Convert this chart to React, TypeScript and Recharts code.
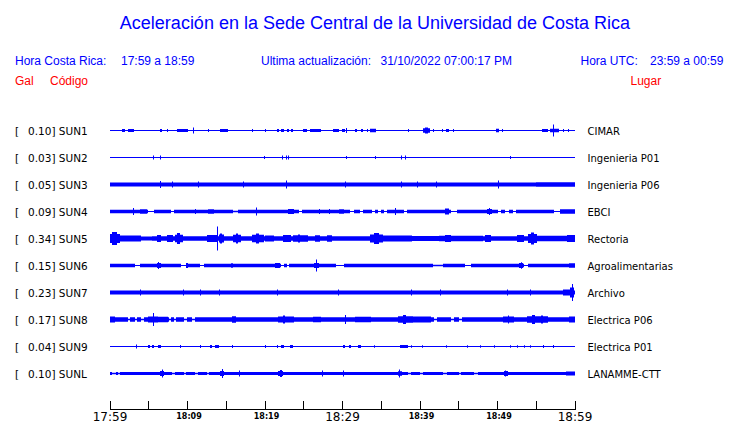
import React from "react";
import { ComposedChart, Area, XAxis, YAxis } from "recharts";

// station table
const STATION_CODES = ["SUN1", "SUN2", "SUN3", "SUN4", "SUN5", "SUN6", "SUN7", "SUN8", "SUN9", "SUNL"];
const GAL_VALUES = ["0.10", "0.03", "0.05", "0.09", "0.34", "0.15", "0.23", "0.17", "0.04", "0.10"];
const PLACES = [
  "CIMAR", "Ingenieria P01", "Ingenieria P06", "EBCI", "Rectoria",
  "Agroalimentarias", "Archivo", "Electrica P06", "Electrica P01", "LANAMME-CTT",
];

// time axis (minutes after 17:59)
const TIME_TICKS = [0, 5, 10, 15, 20, 25, 30, 35, 40, 45, 50, 55, 60];
const TIME_LABELS = ["17:59", "18:09", "18:19", "18:29", "18:39", "18:49", "18:59"];

// background half-amplitude of every trace
const BASE_AMP = [0.5, 0.5, 2, 1.7, 2.3, 1.7, 2, 2.3, 0.5, 1.5];

// [start min, end min, half amplitude]
type Burst = [number, number, number];
const SUN1_BURSTS: Burst[] = [
  [1.6, 1.8, 1.5], [2.3, 3.0, 1.5], [6.5, 6.6, 1.5], [7.3, 7.4, 1.5], [8.6, 9.9, 1.5],
  [10.7, 10.7, 3], [12.6, 12.6, 1.5], [14.2, 15.1, 1.5], [18.3, 18.3, 1.5], [20.0, 20.0, 1.5],
  [21.5, 21.7, 1.5], [22.1, 22.3, 1.5], [22.8, 23.0, 1.5], [23.4, 23.5, 1.5], [24.9, 25.3, 1.5],
  [25.8, 27.1, 1.5], [28.8, 29.4, 1.5], [29.9, 30.2, 1.5], [30.5, 30.5, 2.5], [31.6, 31.7, 1.5],
  [32.4, 32.5, 1.5], [33.1, 33.2, 1.5], [33.5, 34.2, 1.8], [38.5, 38.5, 1.5], [40.4, 41.2, 2.2],
  [40.7, 40.9, 3], [41.7, 41.7, 1.5], [42.8, 42.9, 1.5], [43.4, 43.6, 1.5], [44.3, 44.3, 1.5],
  [49.8, 50.1, 1.8], [50.6, 50.6, 1.5], [55.7, 56.4, 1.5], [56.8, 57.8, 1.8], [57.2, 57.2, 6],
  [58.5, 58.5, 1.5], [59.1, 59.1, 1.5],
];
const SUN2_BURSTS: Burst[] = [
  [5.5, 5.5, 2], [6.5, 6.5, 2], [19.9, 19.9, 1.5], [22.2, 22.2, 2], [22.7, 22.7, 2],
  [23.0, 23.0, 2], [30.5, 30.5, 1.5], [34.2, 34.2, 1.5], [37.5, 37.6, 2], [38.1, 38.1, 2],
  [51.6, 51.6, 1.5],
];
const SUN3_BURSTS: Burst[] = [
  [6.4, 6.4, 3.5], [8.0, 8.0, 3], [11.4, 11.4, 3], [17.2, 17.2, 3], [22.7, 22.7, 4],
  [30.3, 30.3, 3], [37.5, 37.5, 3], [39.6, 39.6, 3], [42.0, 42.0, 3], [50.1, 50.1, 4],
  [55.0, 60, 2.3],
];
const SUN4_BURSTS: Burst[] = [
  [3.0, 3.0, 3.5], [3.9, 4.6, 2.3], [4.9, 5.6, 0.5], [7.9, 8.1, 0.5], [11.0, 11.0, 2.5],
  [12.6, 13.3, 2.3], [15.9, 16.4, 0.8], [18.8, 18.8, 4], [23.0, 23.6, 2.5], [24.4, 24.6, 0.5],
  [27.0, 27.0, 2.5], [28.2, 28.2, 2.5], [29.5, 30.0, 2.3], [31.0, 31.3, 0.5], [32.2, 32.5, 0.5],
  [33.8, 34.0, 0.5], [34.6, 34.8, 0.5], [35.4, 35.6, 0.5], [36.8, 36.8, 3.5], [37.9, 38.2, 0.5],
  [43.2, 43.6, 3], [44.0, 44.6, 0.5], [48.6, 49.2, 2.5], [48.9, 48.9, 3.5], [50.0, 50.3, 0.5],
  [51.0, 51.3, 0.5], [52.0, 52.3, 0.5], [57.3, 57.9, 0.5], [58.1, 60, 2.2],
];
const SUN5_BURSTS: Burst[] = [
  [0, 1.3, 4.5], [0.3, 0.8, 6.5], [1.3, 4.0, 3], [4.0, 5.3, 2], [6.1, 6.5, 3.5],
  [7.3, 8.0, 3.5], [8.4, 9.3, 3.8], [8.7, 8.9, 5.5], [12.5, 13.7, 3.5], [13.8, 13.8, 12],
  [14.0, 14.6, 4], [14.2, 14.3, 5], [15.9, 16.8, 3.8], [16.2, 16.4, 5], [18.3, 19.7, 3.8],
  [18.8, 19.1, 5], [20.0, 21.0, 3], [22.3, 23.2, 3.5], [23.6, 25.4, 3.3], [24.2, 24.4, 4],
  [26.5, 27.0, 3.2], [28.0, 28.5, 3.2], [33.5, 35.2, 4], [34.0, 34.6, 5.5], [35.2, 39.0, 3],
  [39.0, 42.4, 2.5], [42.4, 48.0, 2.8], [43.2, 43.9, 3.5], [48.4, 49.0, 3.5], [52.5, 53.3, 3.5],
  [53.9, 55.1, 4.5], [54.3, 54.6, 6], [55.1, 59.0, 2.8], [59.0, 60, 3.5],
];
const SUN6_BURSTS: Burst[] = [
  [3.2, 3.7, 0.5], [6.0, 6.5, 2.5], [6.2, 6.2, 3.5], [9.2, 9.7, 0.5], [9.8, 9.9, 2.5],
  [11.6, 12.0, 0.5], [15.6, 15.8, 2.3], [21.3, 21.8, 2.6], [22.0, 22.3, 0.5], [22.8, 23.0, 0.5],
  [26.3, 26.9, 2.5], [26.6, 26.6, 6], [29.2, 30.1, 0.5], [41.7, 42.8, 0.8], [45.8, 46.4, 0.5],
  [52.8, 53.2, 2.6], [53.0, 53.0, 3.2], [53.4, 53.8, 0.5], [59.2, 60, 2.3],
];
const SUN7_BURSTS: Burst[] = [
  [3.9, 3.9, 3], [9.4, 9.4, 3], [11.6, 11.6, 3], [14.0, 14.0, 3], [21.5, 21.5, 3],
  [29.4, 29.4, 3], [38.9, 38.9, 3], [42.6, 42.6, 3], [51.2, 51.2, 3], [54.2, 54.2, 3],
  [58.4, 59.3, 3], [59.4, 59.8, 5], [59.6, 59.6, 8.5],
];
const SUN8_BURSTS: Burst[] = [
  [0, 0.5, 3], [2.3, 2.5, 0.8], [3.2, 3.4, 0.8], [4.0, 4.2, 0.8], [4.9, 6.2, 3],
  [5.6, 5.6, 6.5], [6.2, 7.3, 2.8], [7.6, 7.8, 0.8], [8.2, 8.4, 0.8], [9.6, 9.8, 0.8],
  [10.6, 10.8, 0.8], [15.7, 16.1, 3.2], [21.7, 23.6, 3], [22.3, 22.5, 4], [26.2, 27.1, 2.8],
  [30.3, 30.3, 4.5], [31.6, 33.5, 2.8], [37.2, 39.1, 3.2], [37.8, 38.0, 4.5], [39.1, 41.3, 3],
  [41.8, 42.0, 0.8], [44.0, 44.2, 0.8], [45.0, 45.3, 0.8], [50.7, 52.0, 3], [51.3, 51.4, 4],
  [53.8, 56.4, 3.2], [54.5, 54.7, 4.5], [55.6, 55.8, 4], [59.2, 60, 3],
];
const SUN9_BURSTS: Burst[] = [
  [3.4, 3.4, 2], [4.9, 5.0, 1.5], [5.4, 5.6, 1.5], [6.2, 6.5, 1.5], [9.0, 9.0, 1.5],
  [11.6, 11.6, 1.5], [12.9, 13.0, 1.5], [13.6, 13.9, 1.5], [15.7, 15.7, 1.5], [20.0, 20.0, 1.5],
  [21.5, 21.6, 1.5], [22.0, 22.3, 1.5], [23.2, 23.5, 1.5], [30.1, 30.2, 1.5], [30.8, 31.0, 1.5],
  [32.0, 32.3, 1.5], [34.0, 34.0, 1.2], [37.4, 38.3, 1.5], [38.9, 38.9, 1.2], [40.2, 40.2, 1.2],
  [43.4, 43.4, 1.2], [46.0, 46.0, 1.2], [47.7, 47.7, 1.2], [49.5, 49.5, 1.2], [51.6, 51.6, 1.2],
  [52.5, 52.5, 1.2], [53.4, 53.4, 1.2], [54.2, 54.2, 1.2], [55.9, 55.9, 1.5], [57.2, 57.2, 1.5],
];
const SUNL_BURSTS: Burst[] = [
  [0.3, 0.6, 0.7], [1.0, 1.2, 0.7], [6.5, 6.9, 2.5], [6.7, 6.7, 4], [8.0, 8.2, 0.7],
  [9.5, 9.7, 0.7], [11.0, 11.2, 0.7], [12.5, 12.7, 0.7], [14.2, 14.6, 2.5], [14.4, 14.4, 4.5],
  [16.6, 16.6, 3], [21.7, 22.2, 2.5], [21.9, 22.0, 3.5], [27.3, 27.3, 3], [30.1, 30.1, 3],
  [37.1, 37.5, 2.2], [37.3, 37.3, 4], [38.5, 38.7, 0.7], [40.0, 40.2, 0.7], [43.0, 43.3, 0.7],
  [45.0, 45.2, 0.7], [47.0, 47.3, 0.7], [50.8, 51.2, 2.5], [51.0, 51.0, 3], [58.8, 60, 2],
];
const BURSTS = [
  SUN1_BURSTS, SUN2_BURSTS, SUN3_BURSTS, SUN4_BURSTS, SUN5_BURSTS,
  SUN6_BURSTS, SUN7_BURSTS, SUN8_BURSTS, SUN9_BURSTS, SUNL_BURSTS,
];

const BLUE = "#0000ff";
const RED = "#ff0000";
const ROW_FIRST = 13.5;
const ROW_STEP = 27;
const SAMPLES = 465; // one sample per pixel column
const DT = 60 / SAMPLES;

const rowCenters = STATION_CODES.map((_, i) => ROW_FIRST + i * ROW_STEP);

const amps = BASE_AMP.map((base, i) => {
  const arr = new Array(SAMPLES + 1).fill(base);
  BURSTS[i].forEach(([s, e, a]) => {
    const k0 = Math.round(s / DT);
    const k1 = Math.min(SAMPLES, Math.max(k0, Math.round(e / DT)));
    for (let k = k0; k <= k1; k++) arr[k] = a;
  });
  return arr;
});

const data = Array.from({ length: SAMPLES + 1 }, (_, k) => {
  const row: Record<string, any> = { t: k * DT };
  rowCenters.forEach((c, i) => { row[`s${i}`] = [c - amps[i][k], c + amps[i][k]]; });
  return row;
});

const RowTick = (props: any) => {
  const { x, y, payload } = props;
  const i = Math.round((payload.value - ROW_FIRST) / ROW_STEP);
  const font = { fontFamily: "DejaVu Sans", fontSize: 10.5, fill: "#000" };
  return (
    <g>
      <text x={x - 95} y={y + 4} {...font}>[</text>
      <text x={x - 82} y={y + 4} {...font}>{`${GAL_VALUES[i]}] ${STATION_CODES[i]}`}</text>
      <text x={x + 477.5} y={y + 4} {...font} fontSize={10}>{PLACES[i]}</text>
    </g>
  );
};

const TimeTick = (props: any) => {
  const { x, y, payload } = props;
  const v = payload.value as number;
  const big = v % 30 === 0;
  return (
    <g>
      <line x1={x} y1={y - 9} x2={x} y2={y} stroke="#000" shapeRendering="crispEdges" />
      {v % 10 === 0 && (
        <text
          x={x + (big ? 0 : 1.5)}
          y={y + (big ? 11.5 : 9.5)}
          textAnchor="middle"
          fontFamily="DejaVu Sans"
          fontSize={big ? 12 : 8}
          fontWeight={big ? "normal" : "bold"}
          fill="#000"
        >
          {TIME_LABELS[v / 10]}
        </text>
      )}
    </g>
  );
};

export default function App() {
  const head = { fontFamily: "Liberation Sans, Arial, sans-serif", fontSize: 12 };
  return (
    <div style={{ position: "absolute", left: 0, top: 0, width: 740, height: 423, background: "#fff" }}>
      <ComposedChart width={740} height={423} data={data} margin={{ top: 117, right: 165, bottom: 0, left: 0 }}>
        <XAxis
          dataKey="t"
          type="number"
          domain={[0, 60]}
          ticks={TIME_TICKS}
          interval={0}
          allowDataOverflow
          height={13.5}
          tickSize={0}
          tickMargin={0}
          tickLine={false}
          axisLine={{ stroke: "#000" }}
          tick={TimeTick}
        />
        <YAxis
          yAxisId="rows"
          type="number"
          domain={[0, 292.5]}
          reversed
          allowDataOverflow
          ticks={rowCenters}
          interval={0}
          width={110}
          tickSize={0}
          tickMargin={0}
          axisLine={false}
          tickLine={false}
          tick={RowTick}
        />
        {STATION_CODES.map((code, i) => (
          <Area
            key={code}
            yAxisId="rows"
            dataKey={`s${i}`}
            type="stepAfter"
            stroke="none"
            fill={BLUE}
            fillOpacity={1}
            dot={false}
            activeDot={false}
            isAnimationActive={false}
          />
        ))}
      </ComposedChart>
      <svg width={740} height={100} style={{ position: "absolute", left: 0, top: 0, pointerEvents: "none" }}>
        <text x={375} y={29} textAnchor="middle" fill={BLUE} fontFamily="Liberation Sans, Arial, sans-serif" fontSize={18}>
          Aceleración en la Sede Central de la Universidad de Costa Rica
        </text>
        <text x={15} y={65} fill={BLUE} {...head}>Hora Costa Rica:</text>
        <text x={121} y={65} fill={BLUE} {...head}>17:59 a 18:59</text>
        <text x={261} y={65} fill={BLUE} {...head}>Ultima actualización:</text>
        <text x={380.5} y={65} fill={BLUE} {...head}>31/10/2022 07:00:17 PM</text>
        <text x={580.5} y={65} fill={BLUE} {...head}>Hora UTC:</text>
        <text x={650} y={65} fill={BLUE} {...head}>23:59 a 00:59</text>
        <text x={15} y={85} fill={RED} {...head}>Gal</text>
        <text x={50} y={85} fill={RED} {...head}>Código</text>
        <text x={630.5} y={85} fill={RED} {...head}>Lugar</text>
      </svg>
    </div>
  );
}
